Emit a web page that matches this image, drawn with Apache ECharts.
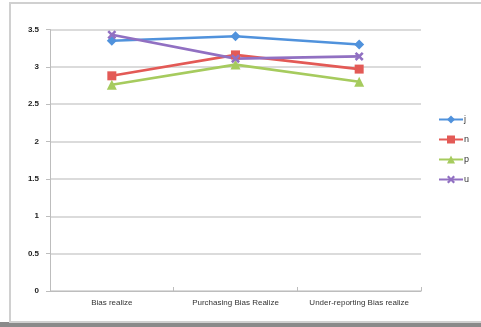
<!DOCTYPE html>
<html><head><meta charset="utf-8">
<script src="https://cdn.jsdelivr.net/npm/echarts@6/dist/echarts.min.js"></script>
<style>html,body{margin:0;padding:0;background:#fff}#c{width:481px;height:327px}</style>
</head><body><div id="c"></div>
<script>
var categories = ['Bias realize', 'Purchasing Bias Realize', 'Under-reporting Bias realize'];
var seriesNames = ['j', 'n', 'p', 'u'];
var jValues = [3.35, 3.41, 3.30];
var nValues = [2.88, 3.16, 2.97];
var pValues = [2.76, 3.03, 2.80];
var uValues = [3.43, 3.11, 3.14];
var yTicks = [0, 0.5, 1, 1.5, 2, 2.5, 3, 3.5];

var colors = ['#5092dc', '#e35a56', '#a6cb5e', '#9170c2'];
var xShape = 'path://M0,2L2,0L5,3L8,0L10,2L7,5L10,8L8,10L5,7L2,10L0,8L3,5Z';
var symbols = ['diamond', 'rect', 'triangle', xShape];
var sizes = [10, 9, 10, 9];
var data = [jValues, nValues, pValues, uValues];

var chart = echarts.init(document.getElementById('c'), null, {renderer: 'canvas'});
chart.setOption({
  animation: false,
  backgroundColor: '#ffffff',
  color: colors,
  graphic: [
    {type: 'rect', shape: {x: 0, y: 322, width: 481, height: 5}, style: {fill: '#8a8a8a'}, z: -10},
    {type: 'rect', shape: {x: 10, y: 3, width: 480, height: 319}, style: {fill: '#fff', stroke: '#d0d0d0', lineWidth: 2}, z: -5}
  ],
  grid: {left: 50, right: 60, top: 29.5, bottom: 36},
  legend: {
    orient: 'vertical', left: 433, top: 110, itemWidth: 24, itemHeight: 10, itemGap: 11,
    data: seriesNames,
    textStyle: {fontSize: 9, color: '#333', fontFamily: 'Liberation Sans', padding: [0, 0, 0, -4]}
  },
  xAxis: {
    type: 'category', data: categories, boundaryGap: true,
    axisLine: {lineStyle: {color: '#bdbdbd', width: 1}},
    axisTick: {show: true, length: 4, inside: true, lineStyle: {color: '#bdbdbd'}},
    axisLabel: {fontSize: 8, color: '#333', margin: 8, fontFamily: 'Liberation Sans', interval: 0}
  },
  yAxis: {
    type: 'value', min: 0, max: 3.5, interval: 0.5,
    axisLine: {show: true, lineStyle: {color: '#bdbdbd', width: 1}},
    axisTick: {show: true, length: 4, lineStyle: {color: '#bdbdbd'}},
    splitLine: {lineStyle: {color: '#cfcfcf', width: 1.5}},
    axisLabel: {fontSize: 8, color: '#222', fontWeight: 'bold', margin: 11, fontFamily: 'Liberation Sans',
      formatter: function (v) { return yTicks.indexOf(v) >= 0 ? String(v) : ''; }}
  },
  series: seriesNames.map(function (name, i) {
    return {
      name: name, type: 'line', data: data[i],
      symbol: symbols[i], symbolSize: sizes[i], showSymbol: true,
      lineStyle: {width: 2.6, color: colors[i]},
      itemStyle: {color: colors[i]}
    };
  })
});
</script></body></html>
